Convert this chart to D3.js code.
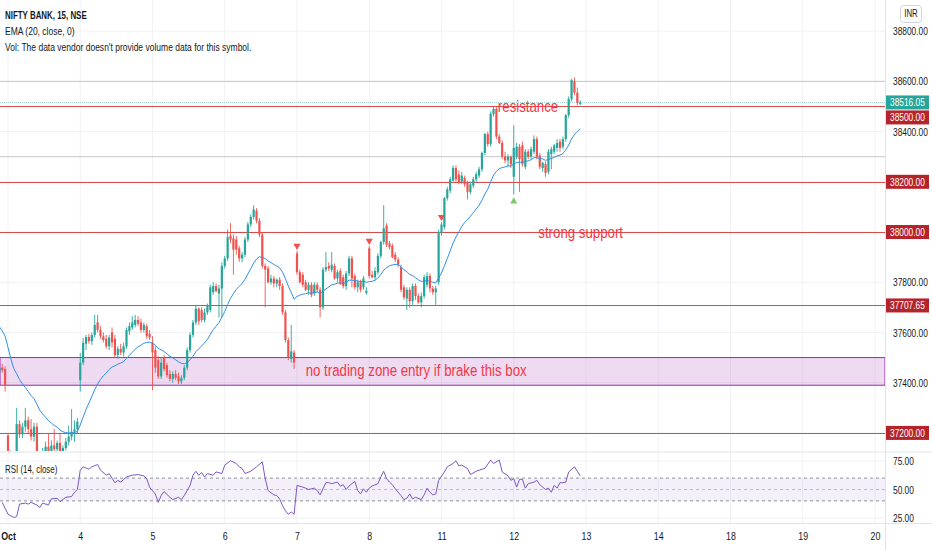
<!DOCTYPE html>
<html><head><meta charset="utf-8">
<script src="https://cdn.jsdelivr.net/npm/d3@7"></script>
<style>
html,body{margin:0;padding:0;background:#fff;}
svg{display:block;font-family:"Liberation Sans",Arial,sans-serif;}
</style></head><body><svg id="c" width="932" height="550"></svg>
<script>
// ---------- data ----------
const firstIndex = -3; // first candle is 3 bars before Oct 1 09:15
const candles = [ // [open, high, low, close]
// Sep 30 tail
[37440,37470,37420,37460],[37460,37475,37440,37450],[37455,37465,37365,37390],
// Oct 1
[37190,37200,37090,37110],[37110,37130,37040,37060],[37060,37110,37030,37095],[37095,37300,37085,37235],
[37235,37250,37180,37195],[37195,37240,37180,37225],[37225,37300,37205,37250],[37250,37265,37200,37215],
[37215,37255,37170,37185],[37185,37240,37165,37225],[37225,37240,37080,37100],[37100,37125,37040,37070],
[37070,37140,37060,37125],[37125,37165,37105,37145],[37145,37195,37110,37120],[37120,37170,37100,37150],
[37150,37215,37120,37135],[37135,37170,37110,37160],[37160,37195,37085,37105],[37105,37150,37090,37140],
[37140,37180,37130,37165],[37165,37230,37150,37185],[37185,37295,37170,37205],[37205,37250,37165,37215],
[37215,37260,37195,37245],
// Oct 4
[37410,37518,37365,37480],[37480,37578,37470,37559],[37555,37590,37530,37582],[37582,37595,37555,37565],
[37565,37600,37550,37590],[37590,37670,37580,37630],[37640,37670,37600,37610],[37610,37625,37575,37585],
[37585,37600,37560,37570],[37575,37590,37535,37545],[37545,37590,37530,37580],[37600,37620,37540,37560],
[37575,37590,37500,37510],[37510,37545,37495,37535],[37535,37555,37510,37520],[37520,37560,37505,37545],
[37545,37620,37535,37610],[37605,37640,37590,37625],[37620,37665,37610,37640],[37630,37670,37620,37650],
[37650,37665,37625,37635],[37640,37655,37600,37610],[37610,37640,37600,37630],[37625,37635,37575,37585],
[37595,37610,37570,37580],
// Oct 5
[37560,37585,37370,37520],[37530,37545,37440,37460],[37490,37505,37415,37425],[37425,37500,37415,37480],
[37500,37510,37445,37455],[37470,37480,37420,37430],[37435,37450,37405,37415],[37415,37445,37400,37435],
[37435,37450,37410,37420],[37425,37440,37395,37405],[37405,37430,37395,37420],[37420,37470,37410,37460],
[37460,37540,37450,37530],[37530,37600,37520,37590],[37590,37650,37580,37640],[37640,37710,37630,37695],
[37695,37700,37630,37645],[37690,37700,37640,37650],[37650,37695,37640,37680],[37680,37715,37670,37705],
[37690,37790,37680,37780],[37760,37800,37750,37785],[37785,37795,37760,37765],[37755,37790,37660,37775],
[37775,37880,37660,37865],
// Oct 6
[37865,37905,37855,37895],[37895,38010,37885,37980],[37985,38035,37955,37970],[37975,37990,37830,37930],
[37970,37985,37910,37930],[37935,37945,37880,37895],[37895,37920,37880,37910],[37910,37980,37900,37970],
[37970,38040,37960,38030],[38030,38070,38020,38060],[38060,38107,38050,38090],[38085,38095,38035,38045],
[38045,38055,37980,37990],[37990,38000,37855,37865],[37865,37875,37700,37850],[37855,37865,37795,37800],
[37800,37830,37790,37815],[37815,37825,37780,37795],[37795,37815,37780,37810],[37810,37820,37770,37785],
[37785,37795,37670,37680],[37680,37690,37560,37570],[37570,37580,37490,37500],[37495,37630,37480,37525],
[37520,37530,37455,37480],
// Oct 7
[37915,37925,37830,37840],[37840,37850,37795,37800],[37830,37840,37780,37790],[37800,37810,37765,37770],
[37770,37800,37750,37790],[37790,37800,37740,37750],[37755,37800,37745,37790],[37790,37800,37760,37770],
[37770,37780,37660,37700],[37700,37860,37690,37850],[37850,37920,37840,37860],[37865,37880,37845,37855],
[37850,37920,37840,37870],[37865,37875,37810,37815],[37815,37850,37800,37840],[37845,37855,37790,37795],
[37820,37830,37775,37785],[37785,37845,37770,37835],[37835,37905,37825,37895],[37895,37905,37780,37815],
[37825,37835,37770,37780],[37780,37810,37760,37800],[37800,37810,37760,37770],[37780,37825,37770,37815],
[37758,37780,37750,37766],
// Oct 8
[37935,37945,37815,37825],[37830,37845,37815,37820],[37820,37860,37810,37845],[37840,37915,37830,37905],
[37905,37965,37895,37960],[37960,38107,37950,38015],[38025,38035,37940,37950],[37955,37965,37930,37940],
[37945,37955,37895,37900],[37910,37920,37880,37890],[37890,37900,37860,37870],[37860,37870,37760,37770],
[37780,37790,37730,37740],[37735,37780,37690,37770],[37770,37780,37700,37725],[37725,37795,37710,37785],
[37785,37795,37730,37745],[37745,37755,37715,37720],[37720,37760,37700,37745],[37745,37830,37735,37820],
[37790,37840,37780,37825],[37825,37835,37760,37775],[37775,37785,37750,37760],[37760,37785,37710,37775],
[37800,38010,37790,38000],
// Oct 11
[37995,38040,37985,38030],[38020,38140,38010,38135],[38135,38180,38125,38170],[38165,38220,38155,38210],
[38205,38265,38200,38255],[38255,38265,38200,38210],[38230,38245,38190,38195],[38200,38240,38190,38225],
[38215,38225,38180,38190],[38195,38205,38130,38160],[38160,38200,38150,38190],[38185,38220,38175,38210],
[38210,38240,38200,38230],[38225,38260,38215,38250],[38250,38320,38240,38315],[38315,38395,38305,38390],
[38390,38400,38340,38350],[38350,38480,38340,38470],[38470,38500,38460,38490],[38490,38500,38370,38380],
[38380,38390,38350,38355],[38355,38365,38290,38300],[38300,38320,38275,38285],[38285,38310,38260,38300],
[38300,38305,38255,38270],
// Oct 12
[38220,38425,38150,38335],[38300,38355,38290,38340],[38340,38350,38160,38290],[38345,38360,38260,38270],
[38260,38330,38250,38320],[38320,38330,38290,38300],[38300,38340,38290,38330],[38320,38385,38310,38370],
[38370,38380,38290,38300],[38305,38315,38250,38260],[38255,38280,38240,38275],[38270,38280,38220,38235],
[38240,38330,38230,38320],[38310,38340,38250,38330],[38320,38350,38310,38345],[38335,38370,38320,38355],
[38360,38370,38320,38335],[38340,38380,38330,38370],[38370,38470,38360,38465],[38465,38540,38455,38530],
[38530,38610,38520,38605],[38600,38615,38545,38555],[38555,38575,38505,38515],[38510,38525,38505,38516.05]
];
const emaSeed = 37640;           // EMA(20) value just before the first visible bar
const dayLabels = ["Oct","4","5","6","7","8","11","12","13","14","18","19","20"];
const barsPerDay = 25;
const priceTicks = [37200,37400,37600,37800,38000,38200,38400,38600,38800];
const levels = [38500,38200,38000,37707.65,37200];
const grayLevels = [38600,38300];
const zone = [37390,37500];
const lastPrice = 38516.05;
const sellMarks = [100,125,150];
const buyMarks = [175];
const rsiTicks = [25,50,75];
const rsiBands = [40,50,60];
const rsiPts = [
[-2,38.7],[0,28.3],[2,25.4],[3,26.3],[4,37.2],[6,38.1],[7,37.2],[8,38.7],[10,36.4],[11,34.3],[12,38.1],[14,36.4],[15,41.7],[17,42.3],[18,39.3],[20,43.2],[22,43.8],[23,47.6],[24,50],
[25,66.9],[26,69.9],[28,67.8],[29,69.9],[31,71.9],[32,67],[34,62.5],[35,64],[37,55.9],[38,58],[39,56.5],[41,61],[43,62.5],[45,63.1],[47,61.9],[48,59.5],[49,52],
[51,46],[52,38.7],[53,44.7],[54,48.2],[56,43.2],[57,41.1],[59,43.2],[60,41.1],[61,44.7],[63,53.6],[64,62.5],[65,66],[66,62.5],[67,64.8],[68,61],[69,64],[71,62.5],[72,65.4],[74,64],
[75,71.4],[77,75.2],[79,72.8],[80,69.9],[81,68.4],[82,64],[84,66],[86,69.9],[88,74.3],[89,59.5],[90,49.1],[92,45.3],[93,44.7],[94,41.7],[95,35.8],[96,31.3],[97,28.3],[98,30.3],[99,28.3],
[100,53.6],[102,52.1],[103,51.2],[104,50],[106,51.2],[107,49.1],[108,45.3],[110,56],[111,56],[112,55.1],[114,56.5],[115,53],[116,54.2],[117,50],[118,53],[120,57.1],[121,49.1],[122,46.1],[123,50.6],[124,47.6],
[125,51.2],[126,53],[128,55.1],[129,61],[130,66],[131,59.5],[132,56.5],[133,54.2],[134,50.6],[136,44.7],[137,41.1],[138,42.3],[139,46.1],[140,41.7],[141,43.2],[143,41.1],[144,45.3],[145,51.2],[146,47.6],[147,45.3],[148,46.1],[149,57.9],
[151,65.4],[152,69.9],[154,72.8],[155,75.2],[156,70.8],[157,71.4],[159,68.4],[160,63.1],[162,66],[164,67.8],[165,68.4],[167,75.8],[168,72.8],[170,75.8],[171,65.4],[173,61.9],[174,58],
[175,59.5],[176,52.1],[177,58.9],[178,58.9],[179,51.2],[180,55.1],[182,56.5],[183,58],[184,54.2],[186,50],[187,51.2],[188,47.6],[189,53.6],[190,51.2],[191,56],[192,56],[193,56.5],[194,65.4],[196,69.9],[197,66],[198,62]
];
const notes = [
  {text:"resistance", idx:169.5, price:38500},
  {text:"strong support", idx:183.5, price:38000},
  {text:"no trading zone entry if brake this box", idx:103, price:37452}
];
const header = ["NIFTY BANK, 15, NSE","EMA (20, close, 0)","Vol: The data vendor doesn't provide volume data for this symbol."];

// ---------- layout ----------
const W=932,H=550, paneR=885, mainB=451, rsiT=453, rsiB=523;
const svg=d3.select("#c");
const x=d3.scaleLinear().domain([0,200]).range([8,586]);
const y=d3.scaleLinear().domain([37128,38924]).range([mainB,0]);
const yR=d3.scaleLinear().domain([25,75]).range([518,461]);
const GREEN="#26a69a", RED="#ef5350";

const defs=svg.append("defs");
defs.append("clipPath").attr("id","mainClip").append("rect").attr("x",0).attr("y",0).attr("width",paneR).attr("height",mainB);
defs.append("clipPath").attr("id","rsiClip").append("rect").attr("x",0).attr("y",rsiT).attr("width",paneR).attr("height",rsiB-rsiT);

const dayIdx=dayLabels.map((d,i)=>i*barsPerDay);

// condensed face emulation: scale text horizontally around its anchor
function condense(sel,f){
  sel.each(function(){
    const ax=+(this.getAttribute("x")||0);
    const prev=this.getAttribute("transform")||"";
    this.setAttribute("transform",`${prev} translate(${ax},0) scale(${f},1) translate(${-ax},0)`);
  });
}

// grid
const grid=svg.append("g");
grid.selectAll("line.v").data(dayIdx).join("line").attr("x1",d=>x(d)).attr("x2",d=>x(d)).attr("y1",0).attr("y2",rsiB).attr("stroke","#f1f2f6");
grid.selectAll("line.h").data(priceTicks).join("line").attr("x1",0).attr("x2",paneR).attr("y1",d=>y(d)).attr("y2",d=>y(d)).attr("stroke","#f1f2f6");

const main=svg.append("g").attr("clip-path","url(#mainClip)");
// zone box
main.append("rect").attr("x",0).attr("width",paneR).attr("y",y(zone[1])).attr("height",y(zone[0])-y(zone[1]))
  .attr("fill","rgba(156,39,176,0.17)").attr("stroke","#9c27b0").attr("stroke-width",1);
// gray lines
main.selectAll("line.g").data(grayLevels).join("line").attr("x1",0).attr("x2",paneR).attr("y1",d=>y(d)).attr("y2",d=>y(d)).attr("stroke","#c3c5cb");
// last price line
main.append("line").attr("x1",0).attr("x2",paneR).attr("y1",y(lastPrice)).attr("y2",y(lastPrice)).attr("stroke","#9fd3cd").attr("stroke-dasharray","1,1");
// levels
main.selectAll("line.l").data(levels).join("line").attr("x1",0).attr("x2",paneR).attr("y1",d=>Math.round(y(d))+0.5).attr("y2",d=>Math.round(y(d))+0.5).attr("stroke","#d84a4a").attr("stroke-width",1.1);

// candles
const bars=candles.map((c,i)=>({i:i+firstIndex,o:c[0],h:c[1],l:c[2],c:c[3]}));
const cg=main.append("g");
cg.selectAll("line.w").data(bars).join("line").attr("x1",d=>x(d.i)).attr("x2",d=>x(d.i)).attr("y1",d=>y(d.h)).attr("y2",d=>y(d.l))
  .attr("stroke",d=>d.c>=d.o?GREEN:RED).attr("stroke-width",0.9);
cg.selectAll("rect").data(bars).join("rect").attr("x",d=>x(d.i)-1.1).attr("width",2.2)
  .attr("y",d=>y(Math.max(d.o,d.c))).attr("height",d=>Math.max(0.8,Math.abs(y(d.o)-y(d.c))))
  .attr("fill",d=>d.c>=d.o?GREEN:RED);

// EMA
let e=emaSeed;
const ema=bars.map(d=>({i:d.i,v:(e=e+(2/21)*(d.c-e))}));
main.append("path").datum(ema).attr("fill","none").attr("stroke","#2f8fe8").attr("stroke-width",1)
  .attr("d",d3.line().x(d=>x(d.i)).y(d=>y(d.v)));

// markers
const byIdx=new Map(bars.map(b=>[b.i,b]));
const tri=d3.symbol().type(d3.symbolTriangle).size(22);
main.selectAll("path.s").data(sellMarks).join("path").attr("d",tri)
  .attr("transform",d=>`translate(${x(d)},${y(byIdx.get(d).h)-5}) rotate(180)`).attr("fill","#f0504f");
main.selectAll("path.b").data(buyMarks).join("path").attr("d",tri)
  .attr("transform",d=>`translate(${x(d)},${y(byIdx.get(d).l)+7})`).attr("fill","#7cc96a");

// notes
main.selectAll("text.n").data(notes).join("text").attr("class","n").attr("x",d=>x(d.idx)).attr("y",d=>y(d.price)).attr("dy","0.35em")
  .attr("fill","#f23645").attr("font-size",17).text(d=>d.text).call(condense,0.78);

// header
svg.selectAll("text.hd").data(header).join("text").attr("class","hd").attr("x",5).attr("y",(d,i)=>19+i*16)
  .attr("font-size",11.5).attr("font-weight",(d,i)=>i===0?"bold":"normal").attr("fill","#131722").text(d=>d)
  .each(function(d,i){ d3.select(this).call(condense, i===0?0.69:(i===1?0.74:0.74)); });

// separators
svg.append("line").attr("x1",0).attr("x2",W).attr("y1",452).attr("y2",452).attr("stroke","#e0e3eb");
svg.append("line").attr("x1",0).attr("x2",W).attr("y1",rsiB+0.5).attr("y2",rsiB+0.5).attr("stroke","#e0e3eb");
svg.append("line").attr("x1",paneR+0.5).attr("x2",paneR+0.5).attr("y1",0).attr("y2",H).attr("stroke","#e0e3eb");

// RSI pane
const rp=svg.append("g").attr("clip-path","url(#rsiClip)");
rp.selectAll("line.rg").data(rsiTicks.filter(t=>t!==50)).join("line").attr("x1",0).attr("x2",paneR).attr("y1",d=>yR(d)).attr("y2",d=>yR(d)).attr("stroke","#f1f2f6");
rp.append("rect").attr("x",0).attr("width",paneR).attr("y",yR(d3.max(rsiBands))).attr("height",yR(d3.min(rsiBands))-yR(d3.max(rsiBands))).attr("fill","rgba(126,87,194,0.09)");
rp.selectAll("line.rb").data(rsiBands).join("line").attr("x1",0).attr("x2",paneR).attr("y1",d=>yR(d)).attr("y2",d=>yR(d))
  .attr("stroke",d=>d===50?"#b9bcc4":"#8f929b").attr("stroke-dasharray","3,3");
rp.append("path").datum(rsiPts).attr("fill","none").attr("stroke","#7e57c2").attr("stroke-width",1)
  .attr("d",d3.line().x(d=>x(d[0])).y(d=>yR(d[1])));
svg.append("text").attr("x",5).attr("y",473).attr("font-size",11).attr("fill","#131722").text("RSI (14, close)").call(condense,0.72);

// label boxes on axis
const tags=[{v:lastPrice,c:GREEN}].concat(levels.map(v=>({v,c:"#b5232b"})));
tags.forEach(t=>t.y=y(t.v));
tags.sort((a,b)=>a.y-b.y);
for(let k=1;k<tags.length;k++){ if(tags[k].y<tags[k-1].y+15) tags[k].y=tags[k-1].y+15; }

// price axis (ticks hidden behind a tag are left out)
const shownTicks=priceTicks.filter(t=>!tags.some(g=>Math.abs(g.y-y(t))<9));
const pa=svg.append("g").attr("transform",`translate(${paneR},0)`)
  .call(d3.axisRight(y).tickValues(shownTicks).tickFormat(d3.format(".2f")).tickSize(0).tickPadding(8));
pa.select(".domain").remove();
pa.selectAll("text").attr("font-size",11).attr("fill","#131722").attr("font-family",null).call(condense,0.76);
const ra=svg.append("g").attr("transform",`translate(${paneR},0)`)
  .call(d3.axisRight(yR).tickValues(rsiTicks).tickFormat(d3.format(".2f")).tickSize(0).tickPadding(8));
ra.select(".domain").remove();
ra.selectAll("text").attr("font-size",11).attr("fill","#131722").attr("font-family",null).call(condense,0.76);

const tg=svg.append("g");
tg.selectAll("rect").data(tags).join("rect").attr("x",paneR+1).attr("y",d=>d.y-7).attr("width",43).attr("height",14).attr("fill",d=>d.c);
tg.selectAll("text").data(tags).join("text").attr("x",paneR+5).attr("y",d=>d.y).attr("dy","0.35em").attr("font-size",11).attr("fill","#fff")
  .text(d=>d3.format(".2f")(d.v)).call(condense,0.76);

// time axis
const ta=svg.append("g").attr("transform",`translate(0,${rsiB})`)
  .call(d3.axisBottom(x).tickValues(dayIdx).tickFormat((d,i)=>dayLabels[i]).tickSize(0).tickPadding(9));
ta.select(".domain").remove();
ta.selectAll("text").attr("font-size",11).attr("fill","#131722").attr("font-family",null)
  .attr("font-weight",(d,i)=>i===0?"bold":"normal").call(condense,0.8);

// currency badge
svg.append("rect").attr("x",900.5).attr("y",5.5).attr("width",21).attr("height",17).attr("rx",3).attr("fill","#fff").attr("stroke","#d1d4dc");
svg.append("text").attr("x",911).attr("y",14).attr("dy","0.35em").attr("text-anchor","middle").attr("font-size",10).attr("fill","#131722").text("INR").call(condense,0.78);
</script></body></html>
